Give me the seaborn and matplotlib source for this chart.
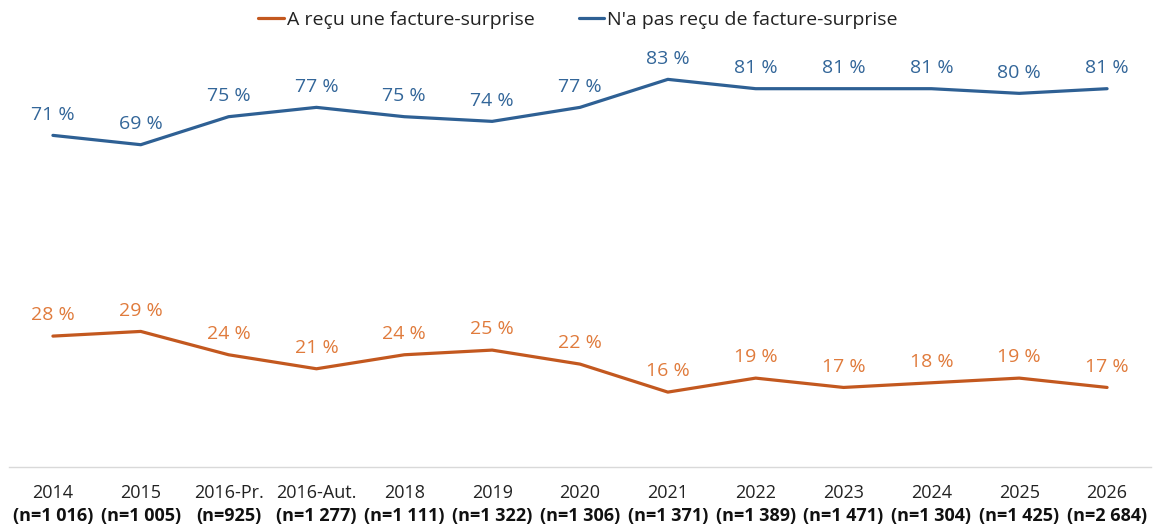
import matplotlib
matplotlib.use("Agg")
import matplotlib.pyplot as plt
import seaborn as sns
import pandas as pd

years = ["2014", "2015", "2016-Pr.", "2016-Aut.", "2018", "2019", "2020", "2021",
         "2022", "2023", "2024", "2025", "2026"]
samples = ["(n=1 016)", "(n=1 005)", "(n=925)", "(n=1 277)", "(n=1 111)", "(n=1 322)",
           "(n=1 306)", "(n=1 371)", "(n=1 389)", "(n=1 471)", "(n=1 304)", "(n=1 425)",
           "(n=2 684)"]
recu = [28, 29, 24, 21, 24, 25, 22, 16, 19, 17, 18, 19, 17]
pas_recu = [71, 69, 75, 77, 75, 74, 77, 83, 81, 81, 81, 80, 81]

s_recu = "A reçu une facture-surprise"
s_pas = "N'a pas reçu de facture-surprise"

line_colors = {s_recu: "#C3581F", s_pas: "#2E6094"}
label_colors = {s_recu: "#E07B3C", s_pas: "#336699"}

df = pd.DataFrame({
    "x": list(range(len(years))) * 2,
    "val": recu + pas_recu,
    "serie": [s_recu] * len(years) + [s_pas] * len(years),
})

sns.set_style("white")
plt.rcParams["font.family"] = ["Open Sans", "DejaVu Sans"]

fig = plt.figure(figsize=(11.56, 5.31), dpi=100)
ax = fig.add_axes([9 / 1156, 1 - 466.8 / 531, 1142 / 1156, 466.8 / 531])

sns.lineplot(data=df, x="x", y="val", hue="serie", palette=line_colors,
             linewidth=2.3, ax=ax, legend=False, sort=False)

for serie, vals in [(s_recu, recu), (s_pas, pas_recu)]:
    for i, v in enumerate(vals):
        ax.annotate(f"{v} %", xy=(i, v), xytext=(0, 15), textcoords="offset points",
                    ha="center", va="center", fontsize=14, color=label_colors[serie])

ax.set_xlim(-0.5, len(years) - 0.5)
ax.set_ylim(0, 100)
ax.set_xticks([])
ax.set_yticks([])
ax.set_xlabel("")
ax.set_ylabel("")
for side in ["top", "left", "right"]:
    ax.spines[side].set_visible(False)
ax.spines["bottom"].set_color("#D9D9D9")
ax.spines["bottom"].set_linewidth(1)

for i, (yr, n) in enumerate(zip(years, samples)):
    ax.annotate(yr, xy=(i, 0), xycoords=("data", "axes fraction"),
                xytext=(0, -26 * 0.72), textcoords="offset points",
                ha="center", va="center", fontsize=13, color="#222222",
                annotation_clip=False)
    ax.annotate(n, xy=(i, 0), xycoords=("data", "axes fraction"),
                xytext=(0, -49 * 0.72), textcoords="offset points",
                ha="center", va="center", fontsize=13, fontweight="bold",
                color="#111111", annotation_clip=False)

handles = [plt.Line2D([], [], color=line_colors[s_recu], linewidth=2.3),
           plt.Line2D([], [], color=line_colors[s_pas], linewidth=2.3)]
fig.legend(handles, [s_recu, s_pas], loc="center", bbox_to_anchor=(0.5, 1 - 20 / 531),
           ncol=2, frameon=False, fontsize=14, handlelength=1.3, handletextpad=0.15,
           columnspacing=2.3, labelcolor="#222222")

fig.savefig("out.png", dpi=100)
